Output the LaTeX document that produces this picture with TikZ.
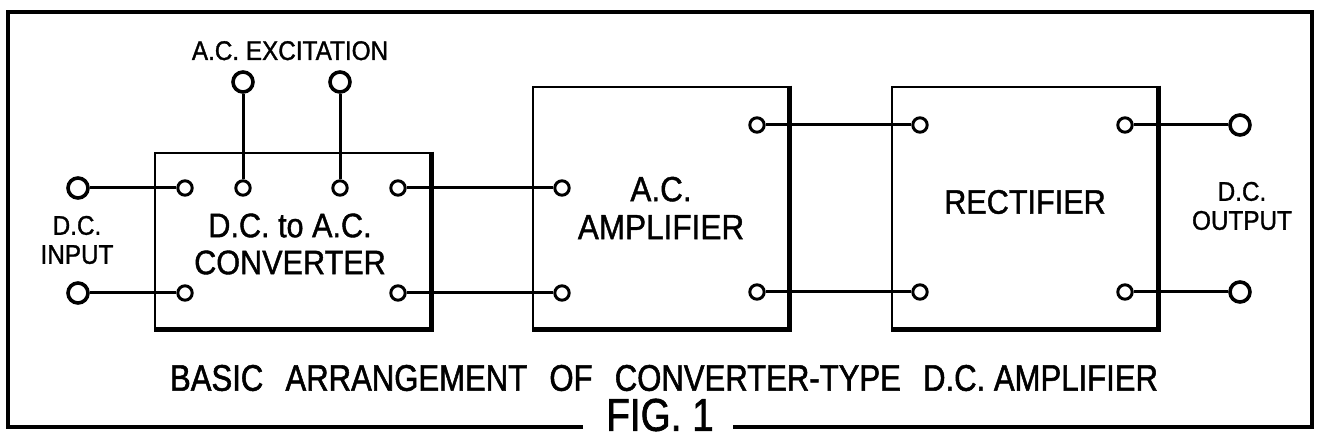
\documentclass[tikz,border=0pt]{standalone}
\usepackage{fontspec}
\newfontfamily\patfont[FakeStretch=0.9, FakeBold=1.2]{Liberation Sans}
\newfontfamily\capfont[FakeStretch=0.84, FakeBold=1.4]{Liberation Sans}
\usetikzlibrary{positioning,calc}
\newcommand{\wgap}{\hspace{0.6em}}

\begin{document}
\begin{tikzpicture}[
  x=0.5pt, y=-0.5pt,
  font=\patfont,
  block/.style={draw, line width=1.4pt, inner sep=0pt, minimum height=120.5pt},
  heavy/.style={line width=2.6pt},
  term/.style={circle, draw, line width=1.5pt, fill=white, inner sep=0pt, minimum size=7.2pt},
  post/.style={circle, draw, line width=1.8pt, fill=white, inner sep=0pt, minimum size=10pt},
  wire/.style={line width=1.5pt},
  frame/.style={line width=2pt},
  small/.style={align=center, font=\patfont\fontsize{13.5}{14.5}\selectfont},
  inside/.style={align=center, font=\patfont\fontsize{17}{18.5}\selectfont}
]
\useasboundingbox (0,0) rectangle (1318,443);

\node[block, minimum width=137.5pt, minimum height=87.5pt] (conv) at (292.5,240.5) {};
\node[block, minimum width=127.5pt] (amp) at (660.5,207.5) {};
\node[block, minimum width=132.5pt] (rect) at (1024.5,207.5) {};
\draw[heavy] (conv.north east) -- (conv.south east) -- (conv.south west);
\draw[heavy] (amp.north east) -- (amp.south east) -- (amp.south west);
\draw[heavy] (rect.north east) -- (rect.south east) -- (rect.south west);

\node[post] (dcinA) at (78,188) {};
\node[post] (dcinB) at (78,293) {};
\node[post] (excA) at (243,82) {};
\node[post] (excB) at (340,82) {};
\node[term] (convinA) at (185,188) {};
\node[term] (convinB) at (185,293) {};
\node[term] (convexA) at (243,188) {};
\node[term] (convexB) at (340,188) {};
\node[term] (convoutA) at (398,188) {};
\node[term] (convoutB) at (398,293) {};
\node[term] (ampinA) at (562,188) {};
\node[term] (ampinB) at (562,293) {};
\node[term] (ampoutA) at (757,125) {};
\node[term] (ampoutB) at (757,292) {};
\node[term] (rectinA) at (920,125) {};
\node[term] (rectinB) at (920,292) {};
\node[term] (rectoutA) at (1125,125) {};
\node[term] (rectoutB) at (1125,292) {};
\node[post] (dcoutA) at (1240,125) {};
\node[post] (dcoutB) at (1240,292) {};

\draw[wire] (dcinA) -- (convinA);
\draw[wire] (dcinB) -- (convinB);
\draw[wire] (excA) -- (convexA);
\draw[wire] (excB) -- (convexB);
\draw[wire] (convoutA) -- (ampinA);
\draw[wire] (convoutB) -- (ampinB);
\draw[wire] (ampoutA) -- (rectinA);
\draw[wire] (ampoutB) -- (rectinB);
\draw[wire] (rectoutA) -- (dcoutA);
\draw[wire] (rectoutB) -- (dcoutB);

\node[small, anchor=base] (exclbl) at (290,60) {A.C. EXCITATION};
\node[small] (inlbl) at (77,240) {D.C.\\INPUT};
\node[small] (outlbl) at (1242,206) {D.C.\\OUTPUT};
\node[inside] (convlbl) at (290,244) {D.C. to A.C.\\CONVERTER};
\node[inside, font=\patfont\fontsize{17.5}{19}\selectfont] (amplbl) at (661,208) {A.C.\\AMPLIFIER};
\node[inside] (rectlbl) at (1025,202) {RECTIFIER};

\node[font=\capfont\fontsize{18.5}{20}\selectfont] (title) at (664,378)
  {BASIC\wgap ARRANGEMENT\wgap OF\wgap CONVERTER-TYPE\wgap D.C. AMPLIFIER};
\node[font=\capfont\fontsize{23}{25}\selectfont] (fig) at (660,415) {FIG. 1};
\draw[frame] (583,427) -- (8,427) -- (8,12) -- (1312,12) -- (1312,427) -- (733,427);
\end{tikzpicture}
\end{document}
